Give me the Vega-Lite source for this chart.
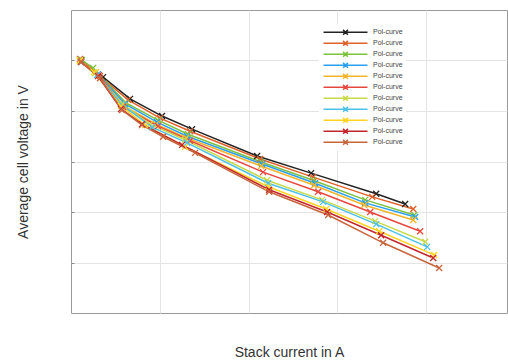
{
  "$schema": "https://vega.github.io/schema/vega-lite/v6.json",
  "autosize": "none",
  "padding": {"left": 71, "top": 10, "right": 1, "bottom": 48},
  "width": 436,
  "height": 303,
  "background": "white",
  "config": {
    "view": {"stroke": "#9a9a9a", "strokeWidth": 1},
    "font": "Liberation Sans"
  },
  "data": {"values": [
    {"s":"s01","x":11.3,"y":0.901},{"s":"s01","x":36.1,"y":0.867},{"s":"s01","x":66.5,"y":0.824},{"s":"s01","x":102.5,"y":0.790},{"s":"s01","x":136.3,"y":0.764},{"s":"s01","x":209.6,"y":0.711},{"s":"s01","x":270.4,"y":0.677},{"s":"s01","x":343.7,"y":0.636},{"s":"s01","x":376.3,"y":0.616},
    {"s":"s02","x":10.1,"y":0.903},{"s":"s02","x":32.7,"y":0.869},{"s":"s02","x":64.2,"y":0.822},{"s":"s02","x":100.3,"y":0.786},{"s":"s02","x":134.1,"y":0.760},{"s":"s02","x":213.0,"y":0.705},{"s":"s02","x":272.7,"y":0.669},{"s":"s02","x":339.2,"y":0.630},{"s":"s02","x":385.4,"y":0.606},
    {"s":"s03","x":12.4,"y":0.901},{"s":"s03","x":24.8,"y":0.885},{"s":"s03","x":62.0,"y":0.816},{"s":"s03","x":98.0,"y":0.782},{"s":"s03","x":131.8,"y":0.754},{"s":"s03","x":214.1,"y":0.699},{"s":"s03","x":272.7,"y":0.663},{"s":"s03","x":331.3,"y":0.624},{"s":"s03","x":386.5,"y":0.594},
    {"s":"s04","x":11.3,"y":0.899},{"s":"s04","x":30.4,"y":0.873},{"s":"s04","x":60.8,"y":0.814},{"s":"s04","x":96.9,"y":0.778},{"s":"s04","x":130.7,"y":0.750},{"s":"s04","x":215.2,"y":0.695},{"s":"s04","x":274.9,"y":0.657},{"s":"s04","x":331.3,"y":0.618},{"s":"s04","x":387.6,"y":0.590},
    {"s":"s05","x":10.1,"y":0.901},{"s":"s05","x":28.2,"y":0.877},{"s":"s05","x":59.7,"y":0.810},{"s":"s05","x":95.8,"y":0.774},{"s":"s05","x":129.6,"y":0.747},{"s":"s05","x":214.1,"y":0.691},{"s":"s05","x":273.8,"y":0.653},{"s":"s05","x":330.1,"y":0.614},{"s":"s05","x":385.4,"y":0.584},
    {"s":"s06","x":11.3,"y":0.899},{"s":"s06","x":31.5,"y":0.871},{"s":"s06","x":58.6,"y":0.808},{"s":"s06","x":98.0,"y":0.770},{"s":"s06","x":134.1,"y":0.741},{"s":"s06","x":216.3,"y":0.679},{"s":"s06","x":278.3,"y":0.640},{"s":"s06","x":336.9,"y":0.600},{"s":"s06","x":393.2,"y":0.562},
    {"s":"s07","x":10.1,"y":0.899},{"s":"s07","x":27.0,"y":0.875},{"s":"s07","x":57.5,"y":0.814},{"s":"s07","x":89.0,"y":0.774},{"s":"s07","x":128.5,"y":0.743},{"s":"s07","x":220.8,"y":0.663},{"s":"s07","x":282.8,"y":0.624},{"s":"s07","x":342.5,"y":0.582},{"s":"s07","x":398.9,"y":0.541},
    {"s":"s08","x":11.3,"y":0.897},{"s":"s08","x":29.3,"y":0.871},{"s":"s08","x":57.5,"y":0.812},{"s":"s08","x":91.3,"y":0.768},{"s":"s08","x":130.7,"y":0.737},{"s":"s08","x":222.0,"y":0.657},{"s":"s08","x":283.9,"y":0.620},{"s":"s08","x":343.7,"y":0.576},{"s":"s08","x":401.1,"y":0.531},
    {"s":"s09","x":10.1,"y":0.899},{"s":"s09","x":25.9,"y":0.877},{"s":"s09","x":56.3,"y":0.810},{"s":"s09","x":83.4,"y":0.772},{"s":"s09","x":128.5,"y":0.729},{"s":"s09","x":222.0,"y":0.650},{"s":"s09","x":287.3,"y":0.606},{"s":"s09","x":347.0,"y":0.562},{"s":"s09","x":409.0,"y":0.515},
    {"s":"s10","x":11.3,"y":0.897},{"s":"s10","x":30.4,"y":0.869},{"s":"s10","x":56.3,"y":0.804},{"s":"s10","x":80.0,"y":0.774},{"s":"s10","x":125.1,"y":0.733},{"s":"s10","x":223.1,"y":0.644},{"s":"s10","x":288.5,"y":0.600},{"s":"s10","x":349.3,"y":0.554},{"s":"s10","x":407.9,"y":0.509},
    {"s":"s11","x":11.3,"y":0.897},{"s":"s11","x":32.7,"y":0.865},{"s":"s11","x":57.5,"y":0.802},{"s":"s11","x":80.0,"y":0.772},{"s":"s11","x":103.7,"y":0.749},{"s":"s11","x":139.7,"y":0.717},{"s":"s11","x":223.1,"y":0.640},{"s":"s11","x":289.6,"y":0.594},{"s":"s11","x":351.5,"y":0.539},{"s":"s11","x":414.6,"y":0.489}
  ]},
  "mark": {
    "type": "line",
    "strokeWidth": 1.5,
    "point": {"shape": "M-1,-1L1,1M-1,1L1,-1", "filled": false, "size": 36, "strokeWidth": 1.3}
  },
  "encoding": {
    "x": {
      "field": "x", "type": "quantitative",
      "scale": {"domain": [0, 491], "nice": false, "zero": false},
      "axis": {
        "title": "Stack current in A", "titleFontSize": 14, "titleFontWeight": "normal",
        "titleColor": "#333333", "titlePadding": 32, "titleFont": "Liberation Sans",
        "labels": false, "ticks": false, "domain": false,
        "values": [100, 200, 300, 400], "grid": true, "gridColor": "#e4e4e4"
      }
    },
    "y": {
      "field": "y", "type": "quantitative",
      "scale": {"domain": [0.4, 1.0], "nice": false, "zero": false},
      "axis": {
        "title": "Average cell voltage in V", "titleFontSize": 14, "titleFontWeight": "normal",
        "titleColor": "#333333", "titlePadding": 40, "titleFont": "Liberation Sans",
        "labels": false, "ticks": true, "tickSize": -3, "tickColor": "#888888", "domain": false,
        "values": [0.5, 0.6, 0.7, 0.8, 0.9], "grid": true, "gridColor": "#e4e4e4"
      }
    },
    "color": {
      "field": "s", "type": "nominal",
      "scale": {
        "domain": ["s01","s02","s03","s04","s05","s06","s07","s08","s09","s10","s11"],
        "range": ["#222222","#e0612a","#7dc13f","#2b9ff0","#f2b42a","#e8473f","#c8da4c","#4cc0e8","#ffd321","#c2262e","#c7653d"]
      },
      "legend": {
        "title": null,
        "orient": "none",
        "legendX": 248,
        "legendY": 14,
        "padding": 3,
        "fillColor": "white",
        "strokeColor": null,
        "labelExpr": "'Pol-curve'",
        "labelFont": "Liberation Sans",
        "labelFontSize": 7,
        "labelColor": "#444444",
        "symbolType": "M-5.5,0H5.5M-0.6,-0.6L0.6,0.6M-0.6,0.6L0.6,-0.6",
        "symbolSize": 64,
        "symbolStrokeWidth": 1.5,
        "symbolOffset": 18.5,
        "labelOffset": 22.5,
        "rowPadding": 0,
        "clipHeight": 10.6
      }
    }
  }
}
